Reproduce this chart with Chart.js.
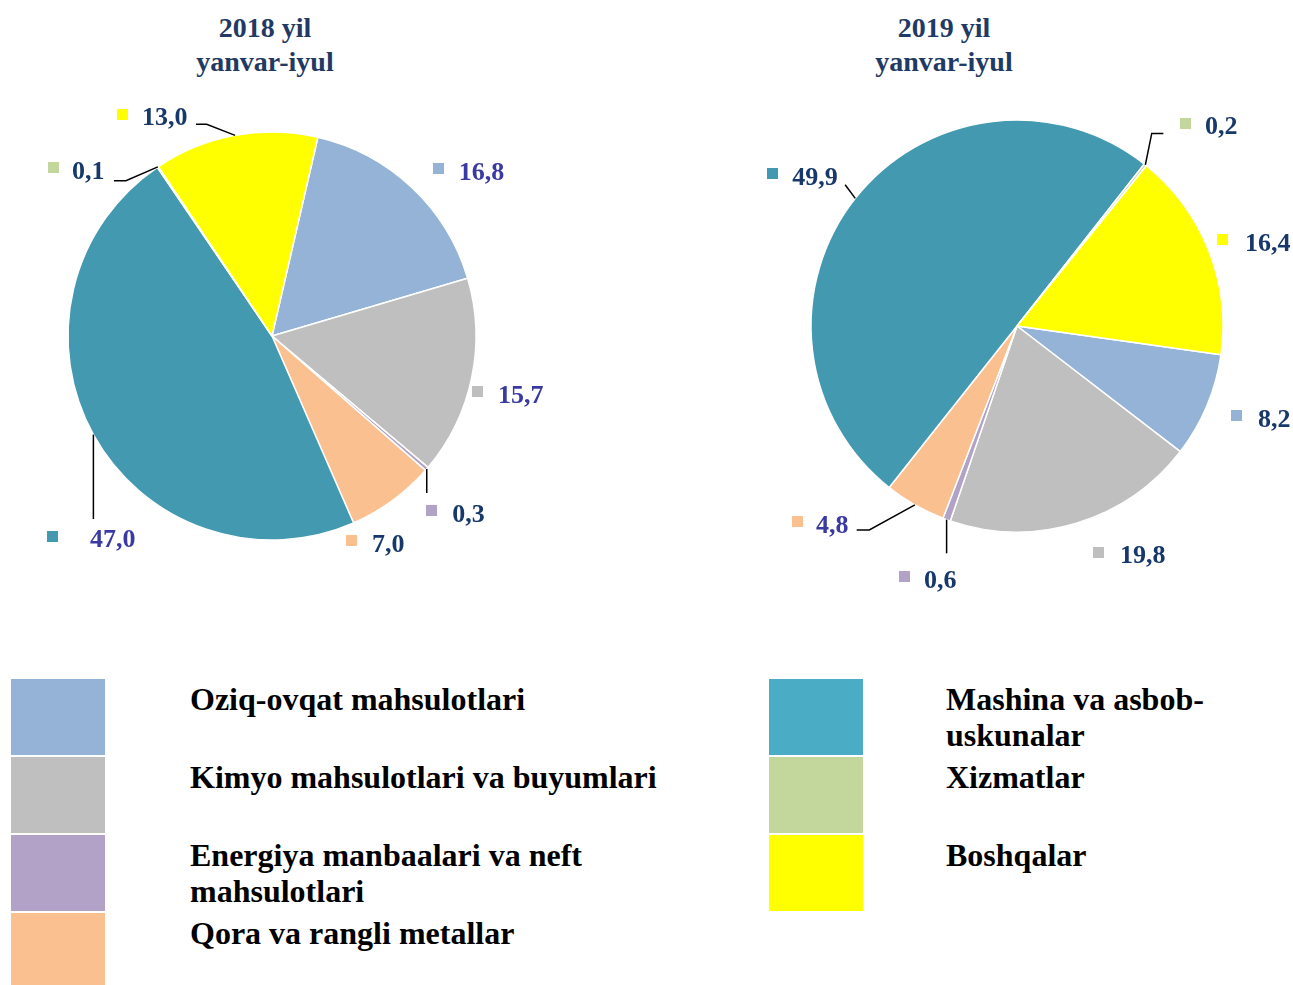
<!DOCTYPE html>
<html><head><meta charset="utf-8">
<script src="https://cdn.jsdelivr.net/npm/chart.js@4.4.1/dist/chart.umd.min.js"></script>
<style>
body{margin:0;background:#fff;width:1293px;height:985px;position:relative;overflow:hidden;font-family:"Liberation Serif","Times New Roman",serif;}
.title{position:absolute;width:300px;text-align:center;font-weight:bold;font-size:28px;line-height:34px;color:#1F3A64;}
.sw{position:absolute;width:94px;height:76px;}
.lt{position:absolute;font-weight:bold;font-size:32px;line-height:36px;color:#000;}
canvas{position:absolute;}
</style></head><body>
<div class="title" style="left:115px;top:11px">2018 yil<br>yanvar-iyul</div>
<div class="title" style="left:794px;top:11px">2019 yil<br>yanvar-iyul</div>
<canvas id="c1" width="640" height="500" style="left:0;top:90px"></canvas>
<canvas id="c2" width="643" height="520" style="left:650px;top:90px"></canvas>
<div id="legend"></div>
<script>
const categories = ['Oziq-ovqat mahsulotlari','Kimyo mahsulotlari va buyumlari','Energiya manbaalari va neft mahsulotlari','Qora va rangli metallar','Mashina va asbob-uskunalar','Xizmatlar','Boshqalar'];
const values2018 = [16.8, 15.7, 0.3, 7.0, 47.0, 0.1, 13.0];
const values2019 = [8.2, 19.8, 0.6, 4.8, 49.9, 0.2, 16.4];
const titles = ['2018 yil yanvar-iyul','2019 yil yanvar-iyul'];

const sliceColors = ['#95B3D7','#BFBFBF','#B3A2C7','#FAC090','#4399AF','#C3D69B','#FFFF00'];
const legendColors = ['#95B3D7','#BFBFBF','#B3A2C7','#FAC090','#4BACC6','#C3D69B','#FFFF00'];
const NAVY = '#17386A', INDIGO = '#3A3AA3';

const fmt = v => v.toFixed(1).replace('.', ',');

function makeLabelPlugin(cfg){
  return {
    id:'sliceLabels',
    afterDatasetsDraw(chart){
      const ctx = chart.ctx, meta = chart.getDatasetMeta(0), ds = chart.data.datasets[0];
      ctx.save();
      meta.data.forEach((arc,i)=>{
        const p = arc.getProps(['x','y','startAngle','endAngle','outerRadius'], true);
        const mid = (p.startAngle + p.endAngle)/2;
        const ex = p.x + Math.cos(mid)*p.outerRadius, ey = p.y + Math.sin(mid)*p.outerRadius;
        const off = cfg.offsets[i];
        const ax = ex + off[0], ay = ey + off[1];
        const lead = cfg.leaders[i];
        if (lead){
          ctx.beginPath(); ctx.moveTo(ex, ey);
          lead.forEach(q => ctx.lineTo(ax+q[0], ay+q[1]));
          ctx.strokeStyle = '#000'; ctx.lineWidth = 1.5; ctx.stroke();
        }
        ctx.fillStyle = ds.backgroundColor[i];
        ctx.fillRect(Math.round(ax), Math.round(ay-7.5), 11, 11);
        ctx.font = 'bold 26px "Liberation Serif","Times New Roman",serif';
        ctx.fillStyle = cfg.textColors[i];
        ctx.textAlign = 'left'; ctx.textBaseline = 'alphabetic';
        ctx.fillText(fmt(ds.data[i]), ax + (cfg.gaps[i] || 26), ay + 9);
      });
      ctx.restore();
    }
  };
}

function makePie(id, values, rotation, radius, padding, cfg){
  return new Chart(document.getElementById(id), {
    type:'pie',
    data:{labels:categories, datasets:[{data:values, backgroundColor:sliceColors, borderColor:'#ffffff', borderWidth:1.5}]},
    options:{
      responsive:false, animation:false, events:[],
      rotation:rotation, radius:radius,
      layout:{padding:padding},
      plugins:{legend:{display:false}, tooltip:{enabled:false}, title:{display:false}}
    },
    plugins:[makeLabelPlugin(cfg)]
  });
}

makePie('c1', values2018, 13, 204, {left:0,right:96,top:0,bottom:8}, {
  offsets:[[21,-16.5],[0.3,16],[-0.6,44],[-46.5,42.3],[-46.5,103.5],[-109.9,2.6],[-118.1,-19.3]],
  leaders:[null,null,[[0.6,-20]],null,[[46.5,-19]],[[78,11.2],[66,11.2]],[[89.7,8.3],[79,8.3]]],
  gaps:[26,26,26,26,43,24,25],
  textColors:[INDIGO,INDIGO,NAVY,NAVY,INDIGO,NAVY,NAVY]
});
makePie('c2', values2019, 98, 206, {left:91,right:0,top:0,bottom:48}, {
  offsets:[[24.1,12.1],[16.5,30.8],[-47.5,59.2],[-122.9,19],[-88.1,-22.9],[34.7,-39.7],[8.5,-8.5]],
  leaders:[null,null,[[47.5,-25.5]],[[77.3,6],[64.7,6]],[[78,9.2]],[[-28.3,8.3],[-16.7,8.3]],null],
  gaps:[27,27,25,24,25,25,28],
  textColors:[NAVY,NAVY,NAVY,INDIGO,NAVY,NAVY,NAVY]
});

// legend
const lg = document.getElementById('legend');
const rowTops = [679, 757, 835, 913];
categories.forEach((name,i)=>{
  const col = i < 4 ? 0 : 1, row = i < 4 ? i : i-4;
  const sw = document.createElement('div');
  sw.className = 'sw';
  sw.style.left = (col ? 769 : 11) + 'px';
  sw.style.top = rowTops[row] + 'px';
  sw.style.background = legendColors[i];
  lg.appendChild(sw);
  const t = document.createElement('div');
  t.className = 'lt';
  t.style.left = (col ? 946 : 190) + 'px';
  t.style.top = (rowTops[row] + 2) + 'px';
  t.style.width = (col ? 320 : 480) + 'px';
  t.textContent = name;
  lg.appendChild(t);
});
</script>
</body></html>
